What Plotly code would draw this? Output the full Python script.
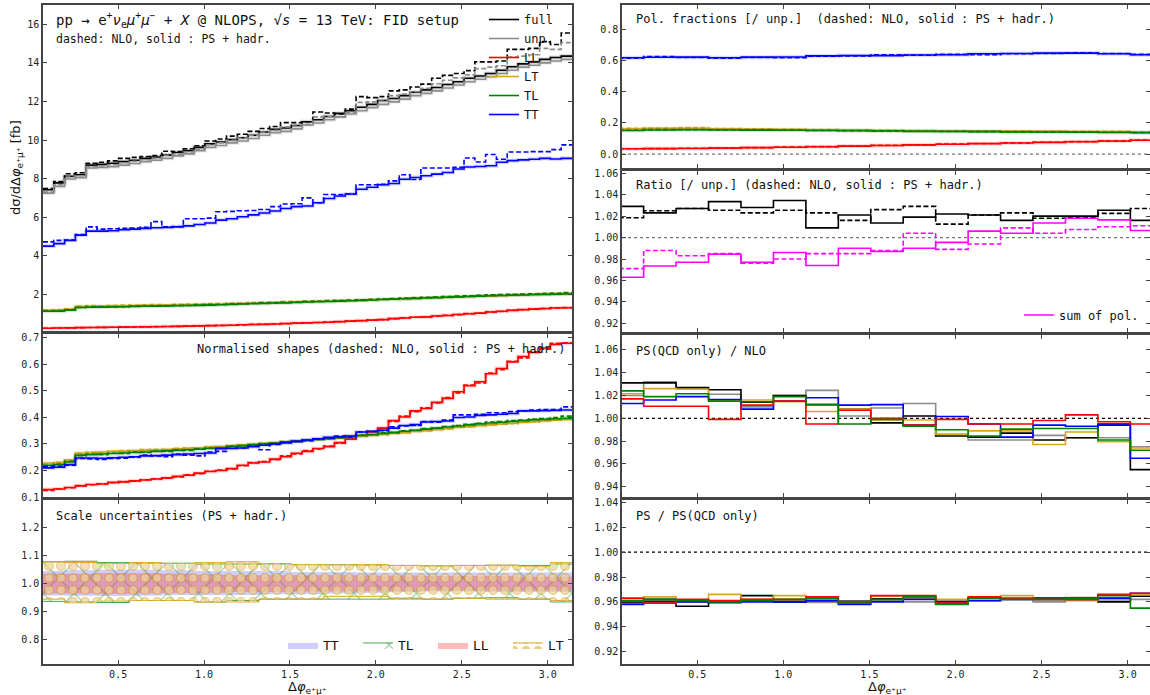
import numpy as np
import plotly.graph_objects as go

PI = np.pi

# ---------------- data : fine bins (pi/50 wide, first visible bin starts at pi/50) -------------
full_ps = [7.42, 7.78, 8.12, 8.20, 8.70, 8.74, 8.80, 8.88, 8.95, 9.05,
           9.12, 9.22, 9.35, 9.45, 9.62, 9.80, 9.90, 10.02, 10.12, 10.25,
           10.42, 10.55, 10.62, 10.75, 10.95, 11.05, 11.22, 11.38, 11.52, 11.70,
           11.85, 12.05, 12.15, 12.30, 12.48, 12.60, 12.72, 12.88, 13.02, 13.20,
           13.32, 13.45, 13.62, 13.80, 13.95, 14.05, 14.18, 14.28, 14.35]
full_nlo = [7.48, 7.85, 8.25, 8.30, 8.80, 8.85, 8.92, 9.05, 9.10, 9.15,
            9.20, 9.42, 9.40, 9.55, 9.70, 9.95, 10.05, 10.20, 10.30, 10.45,
            10.60, 10.70, 10.90, 10.90, 10.95, 11.45, 11.40, 11.35, 11.60,
            12.25, 12.20, 12.25, 12.55, 12.60, 12.75, 12.90, 13.20, 13.35, 13.45, 13.60,
            14.05, 14.05, 14.10, 14.70, 14.70, 14.75, 15.10, 14.95, 15.55]
unp_ps = [7.25, 7.60, 7.98, 8.05, 8.55, 8.58, 8.62, 8.70, 8.78, 8.88,
          8.95, 9.05, 9.18, 9.28, 9.45, 9.62, 9.72, 9.85, 9.95, 10.08,
          10.25, 10.38, 10.45, 10.58, 10.78, 10.88, 11.05, 11.20, 11.35, 11.52,
          11.68, 11.85, 11.98, 12.12, 12.30, 12.42, 12.55, 12.70, 12.85, 13.02,
          13.15, 13.28, 13.45, 13.62, 13.78, 13.88, 14.00, 14.10, 14.18]
unp_nlo = [7.30, 7.68, 8.08, 8.15, 8.62, 8.66, 8.72, 8.82, 8.90, 8.98,
           9.05, 9.20, 9.25, 9.38, 9.52, 9.75, 9.85, 9.98, 10.10, 10.25,
           10.42, 10.50, 10.68, 10.72, 10.80, 11.20, 11.22, 11.20, 11.42, 11.95,
           11.98, 12.02, 12.30, 12.38, 12.50, 12.68, 12.92, 13.10, 13.22, 13.38,
           13.70, 13.78, 13.85, 14.30, 14.35, 14.42, 14.75, 14.70, 15.05]
TT_ps = [4.50, 4.63, 4.80, 5.07, 5.28, 5.28, 5.30, 5.35, 5.38, 5.42,
         5.45, 5.47, 5.50, 5.55, 5.62, 5.70, 5.85, 5.92, 6.02, 6.12,
         6.22, 6.32, 6.45, 6.55, 6.58, 6.75, 6.97, 7.10, 7.20, 7.45,
         7.55, 7.68, 7.75, 7.97, 8.06, 8.15, 8.23, 8.32, 8.50, 8.60,
         8.63, 8.67, 8.85, 8.93, 8.97, 9.00, 9.05, 9.02, 9.05]
TT_nlo = [4.72, 4.80, 4.82, 5.10, 5.50, 5.38, 5.40, 5.42, 5.44, 5.48,
          5.77, 5.50, 5.52, 5.92, 5.92, 5.95, 6.28, 6.30, 6.33, 6.35,
          6.40, 6.55, 6.68, 6.70, 7.00, 6.75, 7.18, 7.18, 7.20, 7.68,
          7.68, 7.70, 7.88, 8.20, 7.95, 8.55, 8.55, 8.55, 8.58, 9.07,
          8.86, 9.25, 9.00, 9.38, 9.38, 9.40, 9.40, 9.50, 9.75]
LL_ps = [0.245, 0.252, 0.262, 0.274, 0.284, 0.288, 0.298, 0.303, 0.310, 0.316,
         0.324, 0.332, 0.342, 0.351, 0.366, 0.377, 0.386, 0.398, 0.422, 0.438,
         0.446, 0.466, 0.484, 0.508, 0.522, 0.543, 0.557, 0.585, 0.610, 0.637,
         0.662, 0.690, 0.744, 0.771, 0.815, 0.832, 0.876, 0.905, 0.953, 0.997,
         1.026, 1.083, 1.121, 1.169, 1.207, 1.236, 1.269, 1.296, 1.303]
LL_nlo = [0.242, 0.254, 0.260, 0.276, 0.282, 0.290, 0.296, 0.305, 0.308, 0.318,
          0.326, 0.330, 0.340, 0.355, 0.362, 0.380, 0.390, 0.396, 0.420, 0.443,
          0.450, 0.463, 0.490, 0.504, 0.528, 0.540, 0.562, 0.582, 0.615, 0.634,
          0.669, 0.688, 0.740, 0.778, 0.811, 0.840, 0.874, 0.912, 0.948, 1.003,
          1.018, 1.090, 1.113, 1.175, 1.200, 1.245, 1.262, 1.306, 1.310]
TL_ps = [1.12, 1.13, 1.18, 1.32, 1.33, 1.34, 1.35, 1.36, 1.37, 1.38,
         1.39, 1.40, 1.41, 1.42, 1.43, 1.44, 1.46, 1.48, 1.50, 1.51,
         1.53, 1.55, 1.56, 1.58, 1.60, 1.62, 1.63, 1.65, 1.67, 1.69,
         1.71, 1.73, 1.75, 1.77, 1.79, 1.81, 1.83, 1.85, 1.87, 1.89,
         1.91, 1.93, 1.94, 1.96, 1.97, 1.99, 2.00, 2.01, 2.02]
TL_nlo = [1.13, 1.15, 1.20, 1.32, 1.35, 1.34, 1.36, 1.36, 1.39, 1.38,
          1.40, 1.40, 1.43, 1.42, 1.45, 1.47, 1.47, 1.50, 1.51, 1.54,
          1.56, 1.56, 1.59, 1.60, 1.63, 1.64, 1.65, 1.68, 1.69, 1.72,
          1.73, 1.76, 1.77, 1.81, 1.82, 1.85, 1.86, 1.89, 1.91, 1.93,
          1.95, 1.98, 1.99, 2.00, 2.01, 2.03, 2.04, 2.06, 2.09]
LT_ps = [1.17, 1.18, 1.23, 1.37, 1.38, 1.39, 1.40, 1.41, 1.42, 1.43,
         1.43, 1.44, 1.45, 1.46, 1.47, 1.48, 1.49, 1.51, 1.52, 1.54,
         1.55, 1.57, 1.58, 1.60, 1.61, 1.63, 1.64, 1.66, 1.68, 1.69,
         1.71, 1.73, 1.75, 1.76, 1.78, 1.80, 1.82, 1.84, 1.86, 1.88,
         1.90, 1.91, 1.93, 1.94, 1.96, 1.97, 1.99, 2.00, 2.01]
LT_nlo = [1.18, 1.21, 1.25, 1.39, 1.42, 1.41, 1.43, 1.44, 1.43, 1.46,
          1.47, 1.46, 1.49, 1.50, 1.50, 1.52, 1.52, 1.55, 1.55, 1.58,
          1.59, 1.60, 1.63, 1.63, 1.66, 1.66, 1.69, 1.69, 1.72, 1.72,
          1.75, 1.76, 1.80, 1.80, 1.83, 1.84, 1.87, 1.88, 1.91, 1.91,
          1.94, 1.95, 1.97, 1.98, 2.01, 2.01, 2.04, 2.05, 2.08]

# normalised shapes
LL_shape_ps = [0.128, 0.130, 0.136, 0.142, 0.147, 0.149, 0.155, 0.157, 0.161, 0.164,
               0.168, 0.172, 0.178, 0.182, 0.190, 0.196, 0.200, 0.207, 0.220, 0.228,
               0.232, 0.243, 0.252, 0.265, 0.272, 0.283, 0.290, 0.305, 0.318, 0.332,
               0.345, 0.360, 0.388, 0.402, 0.425, 0.434, 0.457, 0.472, 0.497, 0.520,
               0.535, 0.565, 0.585, 0.610, 0.630, 0.645, 0.662, 0.676, 0.680]
LL_shape_nlo = [0.125, 0.131, 0.135, 0.143, 0.146, 0.150, 0.154, 0.158, 0.160, 0.165,
                0.169, 0.171, 0.176, 0.184, 0.188, 0.197, 0.202, 0.206, 0.218, 0.230,
                0.234, 0.241, 0.255, 0.262, 0.275, 0.281, 0.292, 0.303, 0.320, 0.330,
                0.348, 0.358, 0.385, 0.405, 0.422, 0.437, 0.455, 0.475, 0.493, 0.522,
                0.530, 0.568, 0.580, 0.612, 0.625, 0.648, 0.658, 0.680, 0.682]
TT_shape_ps = [0.210, 0.212, 0.222, 0.247, 0.247, 0.246, 0.248, 0.250, 0.252, 0.255,
               0.256, 0.258, 0.260, 0.262, 0.264, 0.266, 0.282, 0.283, 0.285, 0.290,
               0.295, 0.300, 0.305, 0.310, 0.315, 0.320, 0.325, 0.327, 0.330, 0.345,
               0.347, 0.352, 0.360, 0.370, 0.373, 0.383, 0.385, 0.387, 0.400, 0.402,
               0.408, 0.410, 0.412, 0.415, 0.425, 0.425, 0.426, 0.427, 0.428]
TT_shape_nlo = [0.215, 0.216, 0.220, 0.245, 0.244, 0.242, 0.245, 0.246, 0.250, 0.258,
                0.255, 0.252, 0.262, 0.258, 0.255, 0.270, 0.272, 0.284, 0.285, 0.292,
                0.278, 0.298, 0.305, 0.310, 0.312, 0.318, 0.322, 0.330, 0.325, 0.345,
                0.348, 0.350, 0.365, 0.368, 0.370, 0.385, 0.382, 0.390, 0.410, 0.410,
                0.412, 0.418, 0.418, 0.422, 0.425, 0.428, 0.430, 0.430, 0.440]
TL_shape_ps = [0.220, 0.222, 0.232, 0.258, 0.260, 0.262, 0.264, 0.266, 0.268, 0.270,
               0.272, 0.274, 0.276, 0.278, 0.280, 0.283, 0.286, 0.290, 0.294, 0.297,
               0.300, 0.303, 0.306, 0.310, 0.313, 0.317, 0.320, 0.324, 0.328, 0.332,
               0.336, 0.340, 0.344, 0.348, 0.352, 0.356, 0.360, 0.364, 0.368, 0.372,
               0.376, 0.379, 0.382, 0.385, 0.388, 0.391, 0.393, 0.395, 0.397]
TL_shape_nlo = [0.218, 0.224, 0.235, 0.256, 0.262, 0.260, 0.265, 0.264, 0.270, 0.268,
                0.273, 0.272, 0.278, 0.276, 0.282, 0.285, 0.285, 0.292, 0.293, 0.298,
                0.302, 0.302, 0.308, 0.310, 0.315, 0.318, 0.320, 0.326, 0.327, 0.334,
                0.335, 0.342, 0.343, 0.350, 0.352, 0.358, 0.360, 0.366, 0.370, 0.374,
                0.378, 0.383, 0.385, 0.388, 0.390, 0.394, 0.396, 0.400, 0.405]
LT_shape_ps = [0.228, 0.230, 0.240, 0.266, 0.268, 0.270, 0.272, 0.273, 0.275, 0.277,
               0.278, 0.280, 0.282, 0.284, 0.286, 0.288, 0.290, 0.293, 0.296, 0.299,
               0.302, 0.305, 0.308, 0.311, 0.314, 0.317, 0.320, 0.323, 0.326, 0.329,
               0.332, 0.336, 0.340, 0.343, 0.347, 0.350, 0.354, 0.358, 0.362, 0.365,
               0.369, 0.372, 0.375, 0.378, 0.381, 0.384, 0.387, 0.390, 0.392]
LT_shape_nlo = [0.225, 0.232, 0.238, 0.265, 0.270, 0.268, 0.273, 0.275, 0.273, 0.279,
                0.280, 0.278, 0.284, 0.285, 0.285, 0.290, 0.290, 0.295, 0.295, 0.300,
                0.303, 0.304, 0.310, 0.310, 0.315, 0.316, 0.322, 0.322, 0.328, 0.328,
                0.334, 0.335, 0.342, 0.342, 0.348, 0.350, 0.355, 0.357, 0.364, 0.364,
                0.370, 0.372, 0.376, 0.377, 0.383, 0.383, 0.388, 0.390, 0.395]

# ---------------- data : coarse bins (3*pi/50 wide) -------------
# scale-uncertainty bands (relative)
TT_band_up = [1.045, 1.048, 1.050, 1.050, 1.048, 1.045, 1.045, 1.045, 1.042, 1.042, 1.040, 1.040, 1.040, 1.040, 1.040, 1.040, 1.040]
TT_band_lo = [0.958, 0.957, 0.956, 0.957, 0.960, 0.960, 0.960, 0.962, 0.962, 0.965, 0.968, 0.970, 0.972, 0.972, 0.970, 0.970, 0.970]
TL_band_up = [1.078, 1.080, 1.075, 1.073, 1.073, 1.070, 1.070, 1.070, 1.068, 1.067, 1.066, 1.065, 1.063, 1.065, 1.066, 1.065, 1.070]
TL_band_lo = [0.937, 0.935, 0.933, 0.940, 0.940, 0.935, 0.940, 0.945, 0.945, 0.945, 0.945, 0.948, 0.945, 0.948, 0.950, 0.945, 0.935]
LL_band_up = [1.035, 1.035, 1.037, 1.037, 1.035, 1.033, 1.030, 1.030, 1.030, 1.030, 1.028, 1.028, 1.027, 1.027, 1.027, 1.025, 1.025]
LL_band_lo = [0.965, 0.965, 0.963, 0.965, 0.967, 0.968, 0.970, 0.970, 0.972, 0.972, 0.973, 0.973, 0.975, 0.975, 0.975, 0.975, 0.975]
LT_band_up = [1.078, 1.075, 1.072, 1.075, 1.072, 1.075, 1.078, 1.072, 1.068, 1.067, 1.068, 1.065, 1.063, 1.065, 1.065, 1.062, 1.075]
LT_band_lo = [0.945, 0.932, 0.938, 0.940, 0.940, 0.935, 0.935, 0.945, 0.945, 0.955, 0.955, 0.945, 0.945, 0.948, 0.945, 0.945, 0.940]

# polarisation fractions
TT_frac_ps = [0.620, 0.623, 0.624, 0.620, 0.624, 0.625, 0.632, 0.634, 0.634, 0.638, 0.640, 0.646, 0.648, 0.650, 0.650, 0.646, 0.640]
TT_frac_nlo = [0.618, 0.628, 0.622, 0.618, 0.622, 0.620, 0.630, 0.632, 0.640, 0.636, 0.642, 0.640, 0.646, 0.648, 0.652, 0.648, 0.642]
LT_frac_ps = [0.163, 0.166, 0.165, 0.162, 0.160, 0.158, 0.156, 0.154, 0.152, 0.150, 0.149, 0.148, 0.147, 0.146, 0.145, 0.144, 0.142]
LT_frac_nlo = [0.165, 0.168, 0.170, 0.164, 0.162, 0.160, 0.157, 0.156, 0.153, 0.151, 0.150, 0.148, 0.148, 0.146, 0.145, 0.145, 0.143]
TL_frac_ps = [0.152, 0.155, 0.156, 0.155, 0.154, 0.153, 0.152, 0.150, 0.148, 0.146, 0.145, 0.144, 0.143, 0.142, 0.140, 0.139, 0.137]
TL_frac_nlo = [0.153, 0.157, 0.157, 0.156, 0.155, 0.153, 0.152, 0.151, 0.149, 0.147, 0.146, 0.144, 0.143, 0.142, 0.141, 0.140, 0.138]
LL_frac_ps = [0.034, 0.035, 0.036, 0.038, 0.041, 0.044, 0.047, 0.051, 0.055, 0.059, 0.063, 0.067, 0.071, 0.075, 0.079, 0.084, 0.089]
LL_frac_nlo = [0.034, 0.035, 0.037, 0.038, 0.041, 0.045, 0.048, 0.051, 0.056, 0.059, 0.064, 0.068, 0.072, 0.076, 0.080, 0.085, 0.090]

# ratios to unpolarised
full_ratio_ps = [1.029, 1.023, 1.027, 1.0335, 1.028, 1.0345, 1.009, 1.021, 1.0135, 1.019, 1.022, 1.021, 1.016, 1.020, 1.020, 1.0255, 1.016]
full_ratio_nlo = [1.0185, 1.025, 1.027, 1.0255, 1.023, 1.0255, 1.023, 1.016, 1.026, 1.029, 1.0125, 1.021, 1.023, 1.018, 1.019, 1.0225, 1.027]
sum_ratio_ps = [0.963, 0.9735, 0.977, 0.9845, 0.977, 0.986, 0.974, 0.990, 0.987, 0.990, 0.9955, 1.006, 1.004, 1.0135, 1.018, 1.0165, 1.0065]
sum_ratio_nlo = [0.971, 0.988, 0.983, 0.985, 0.976, 0.980, 0.985, 0.985, 0.988, 1.004, 0.989, 0.994, 1.009, 1.004, 1.0075, 1.010, 1.011]

# PS(QCD only) / NLO
full_qcd = [1.031, 1.031, 1.027, 1.025, 1.014, 1.020, 1.012, 1.008, 0.996, 1.002, 0.9845, 0.9835, 0.987, 0.981, 0.983, 0.995, 0.955]
unp_qcd = [1.020, 1.032, 1.026, 1.021, 1.010, 1.020, 1.0245, 1.002, 1.009, 1.013, 0.986, 0.981, 0.981, 0.985, 0.983, 0.983, 0.975]
LL_qcd = [1.017, 1.0105, 1.0105, 0.999, 1.0115, 1.015, 0.995, 1.007, 1.000, 0.994, 0.999, 0.995, 0.995, 0.998, 1.003, 0.997, 0.995]
LT_qcd = [1.0215, 1.026, 1.0255, 1.016, 1.016, 1.0145, 1.006, 1.008, 0.9985, 0.9985, 0.986, 0.989, 0.989, 0.977, 0.988, 0.9795, 0.974]
TL_qcd = [1.024, 1.019, 1.0215, 1.015, 1.0145, 1.019, 1.012, 0.995, 0.999, 0.993, 0.990, 0.9845, 0.9905, 0.991, 0.991, 0.981, 0.972]
TT_qcd = [1.013, 1.016, 1.019, 1.0165, 1.008, 1.015, 1.018, 1.0115, 1.012, 0.994, 1.0015, 0.995, 0.9835, 0.994, 0.993, 0.994, 0.965]

# PS / PS(QCD only)
full_hadr = [0.960, 0.962, 0.9565, 0.960, 0.965, 0.960, 0.961, 0.9605, 0.9625, 0.9645, 0.9585, 0.963, 0.9625, 0.963, 0.963, 0.960, 0.9645]
unp_hadr = [0.959, 0.961, 0.961, 0.959, 0.961, 0.961, 0.9595, 0.9605, 0.961, 0.960, 0.961, 0.961, 0.962, 0.960, 0.9635, 0.9615, 0.962]
LL_hadr = [0.963, 0.959, 0.962, 0.961, 0.962, 0.962, 0.964, 0.959, 0.965, 0.965, 0.959, 0.964, 0.963, 0.962, 0.962, 0.966, 0.967]
LT_hadr = [0.961, 0.964, 0.960, 0.966, 0.962, 0.965, 0.962, 0.959, 0.9645, 0.963, 0.962, 0.963, 0.965, 0.962, 0.961, 0.963, 0.966]
TL_hadr = [0.961, 0.962, 0.961, 0.960, 0.961, 0.962, 0.963, 0.960, 0.962, 0.964, 0.958, 0.963, 0.962, 0.962, 0.963, 0.965, 0.955]
TT_hadr = [0.958, 0.960, 0.960, 0.960, 0.960, 0.960, 0.961, 0.958, 0.960, 0.962, 0.960, 0.961, 0.962, 0.962, 0.962, 0.963, 0.967]

x_ticks = [0.5, 1.0, 1.5, 2.0, 2.5, 3.0]

# ---------------- binning -------------
fine_edges = PI / 50 * np.arange(1, 51)                       # 49 bins
coarse_edges = np.append(3 * PI / 50 * np.arange(0, 17), PI)  # 17 bins

MONO = "DejaVu Sans Mono"
SANS = "DejaVu Sans"
COL = dict(full="#000000", unp="#8c8c8c", LL="#ff0000", LT="#daa520",
           TL="#008000", TT="#0000ff", sum="#ff00ff")
DASH = "5px,2.5px"
LW = 1.6

W, H = 1150, 695
ML, MR, MT, MB = 43, 0, 5, 31
PW, PH = W - ML - MR, H - MT - MB
BOT = H - MB


def xdom(a, b):
    return [(a - ML) / PW, (b - ML) / PW]


def ydom(top, bot):
    return [(BOT - bot) / PH, (BOT - top) / PH]


def px(xp):
    return (xp - ML) / PW


def py(yp):
    return (BOT - yp) / PH


fig = go.Figure()


def stepxy(edges, vals):
    return np.asarray(edges), np.append(np.asarray(vals, dtype=float), vals[-1])


def add_step(ax, edges, vals, color, dash="solid", name=None, legend="legend",
             under=False, width=LW):
    x, y = stepxy(edges, vals)
    xa, ya = ax
    if under:
        fig.add_trace(go.Scatter(x=x, y=y, mode="lines", xaxis=xa, yaxis=ya,
                                 line=dict(color=color, width=4, shape="hv"),
                                 opacity=0.14, showlegend=False, hoverinfo="skip"))
    fig.add_trace(go.Scatter(x=x, y=y, mode="lines", xaxis=xa, yaxis=ya,
                             line=dict(color=color, width=width, dash=dash, shape="hv"),
                             name=name, showlegend=name is not None, legend=legend))


P1 = ("x", "y")
P2 = ("x2", "y2")
P3 = ("x3", "y3")
R1 = ("x4", "y4")
R2 = ("x5", "y5")
R3 = ("x6", "y6")
R4 = ("x7", "y7")

# ---- P1 : cross sections ----
series_p1 = [("full", full_nlo, full_ps, "full"), ("unp", unp_nlo, unp_ps, "unp."),
             ("LL", LL_nlo, LL_ps, "LL"), ("LT", LT_nlo, LT_ps, "LT"),
             ("TL", TL_nlo, TL_ps, "TL"), ("TT", TT_nlo, TT_ps, "TT")]
for key, nlo, ps, lab in series_p1:
    add_step(P1, fine_edges, nlo, COL[key], dash=DASH)
    add_step(P1, fine_edges, ps, COL[key], name=lab, legend="legend", under=True)

# ---- P2 : normalised shapes ----
for key, nlo, ps in [("LL", LL_shape_nlo, LL_shape_ps), ("LT", LT_shape_nlo, LT_shape_ps),
                     ("TL", TL_shape_nlo, TL_shape_ps), ("TT", TT_shape_nlo, TT_shape_ps)]:
    add_step(P2, fine_edges, ps, COL[key], under=True)
    add_step(P2, fine_edges, nlo, COL[key], dash=DASH)

# ---- P3 : scale uncertainties ----
def add_band(ax, lo, up, name, fillcolor=None, line=None, pattern=None, showlegend=True, rank=1):
    xa, ya = ax
    x, ylo = stepxy(coarse_edges, lo)
    _, yup = stepxy(coarse_edges, up)
    lw = 1.0 if line else 0
    lc = line if line else "rgba(0,0,0,0)"
    fig.add_trace(go.Scatter(x=x, y=ylo, mode="lines", xaxis=xa, yaxis=ya,
                             line=dict(color=lc, width=lw, shape="hv"),
                             showlegend=False, hoverinfo="skip"))
    kw = dict(x=x, y=yup, mode="lines", xaxis=xa, yaxis=ya, fill="tonexty",
              line=dict(color=lc, width=lw, shape="hv"), name=name,
              showlegend=showlegend, legend="legend3", hoverinfo="skip", legendrank=rank)
    if pattern is not None:
        kw["fillcolor"] = "rgba(0,0,0,0)"
        kw["fillpattern"] = pattern
    else:
        kw["fillcolor"] = fillcolor
    fig.add_trace(go.Scatter(**kw))


add_band(P3, TT_band_lo, TT_band_up, "TT", fillcolor="rgba(80,80,255,0.28)", rank=1)
add_band(P3, TL_band_lo, TL_band_up, "TL", line="rgba(0,128,0,0.7)",
         pattern=dict(shape="x", fgcolor="rgba(0,128,0,0.85)", bgcolor="rgba(0,0,0,0)",
                      size=22, solidity=0.1), rank=2)
add_band(P3, LL_band_lo, LL_band_up, "LL", fillcolor="rgba(255,60,60,0.35)", rank=3)
add_band(P3, LT_band_lo, LT_band_up, "LT", line="#daa520",
         pattern=dict(shape=".", fgcolor="#d4980c", bgcolor="rgba(0,0,0,0)",
                      size=12, solidity=0.55), rank=4)
add_band(P3, LT_band_lo, LT_band_up, None, showlegend=False,
         pattern=dict(shape=".", fgcolor="rgba(255,255,255,0.8)", bgcolor="rgba(0,0,0,0)",
                      size=12, solidity=0.32), rank=5)

# ---- R1 : polarisation fractions ----
for key, nlo, ps in [("TT", TT_frac_nlo, TT_frac_ps), ("LT", LT_frac_nlo, LT_frac_ps),
                     ("TL", TL_frac_nlo, TL_frac_ps), ("LL", LL_frac_nlo, LL_frac_ps)]:
    add_step(R1, coarse_edges, ps, COL[key], under=True)
    add_step(R1, coarse_edges, nlo, COL[key], dash=DASH)

# ---- R2 : ratio to unpolarised ----
add_step(R2, coarse_edges, full_ratio_nlo, COL["full"], dash=DASH)
add_step(R2, coarse_edges, full_ratio_ps, COL["full"])
add_step(R2, coarse_edges, sum_ratio_nlo, COL["sum"], dash=DASH)
add_step(R2, coarse_edges, sum_ratio_ps, COL["sum"], name="sum of pol.", legend="legend2")

# ---- R3 / R4 ----
for key, qcd, hadr in [("unp", unp_qcd, unp_hadr), ("full", full_qcd, full_hadr),
                       ("LT", LT_qcd, LT_hadr), ("TT", TT_qcd, TT_hadr),
                       ("LL", LL_qcd, LL_hadr), ("TL", TL_qcd, TL_hadr)]:
    add_step(R3, coarse_edges, qcd, COL[key])
    add_step(R4, coarse_edges, hadr, COL[key])

# ---------------- axes -------------
LINEC = "#444444"
tickfont = dict(family=MONO, size=10, color="#222222")


def xaxis(dom, anchor, labels, right=False):
    return dict(domain=dom, anchor=anchor, range=[PI / 50, 3.13 if right else PI],
                tickvals=x_ticks, tickformat=".1f", ticks="inside", ticklen=4,
                tickcolor=LINEC, showline=True, linecolor=LINEC, linewidth=1.5,
                mirror="allticks", showgrid=False, zeroline=False, automargin=False,
                showticklabels=labels, tickfont=tickfont)


def yaxis(dom, anchor, rng, dtick, fmt, tick0=None):
    d = dict(domain=dom, anchor=anchor, range=rng, dtick=dtick, tickformat=fmt,
             ticks="inside", ticklen=4, tickcolor=LINEC, showline=True,
             linecolor=LINEC, linewidth=1.5, mirror="allticks", showgrid=False,
             zeroline=False, tickfont=tickfont, automargin=False)
    if tick0 is not None:
        d["tick0"] = tick0
    return d


LX = xdom(43, 572)
RX = xdom(622, 1150)

layout = dict(
    xaxis=xaxis(LX, "y", False),
    yaxis=yaxis(ydom(5, 331), "x", [0.1, 17.0], 2, "d", tick0=0),
    xaxis2=xaxis(LX, "y2", False),
    yaxis2=yaxis(ydom(334, 497), "x2", [0.1, 0.715], 0.1, ".1f", tick0=0),
    xaxis3=xaxis(LX, "y3", True),
    yaxis3=yaxis(ydom(500, 664), "x3", [0.714, 1.298], 0.1, ".1f", tick0=0),
    xaxis4=xaxis(RX, "y4", False, right=True),
    yaxis4=yaxis(ydom(5, 168), "x4", [-0.09, 0.96], 0.2, ".1f", tick0=0),
    xaxis5=xaxis(RX, "y5", False, right=True),
    yaxis5=yaxis(ydom(171, 332), "x5", [0.912, 1.062], 0.02, ".2f", tick0=0),
    xaxis6=xaxis(RX, "y6", False, right=True),
    yaxis6=yaxis(ydom(335, 497), "x6", [0.931, 1.073], 0.02, ".2f", tick0=0),
    xaxis7=xaxis(RX, "y7", True, right=True),
    yaxis7=yaxis(ydom(500, 664), "x7", [0.91, 1.042], 0.02, ".2f", tick0=0),
)
fig.update_layout(**layout)

# reference lines
for xa, ya, yv, c in [("x4", "y4", 0.0, "#777777"), ("x5", "y5", 1.0, "#777777"),
                      ("x6", "y6", 1.0, "#000000"), ("x7", "y7", 1.0, "#000000")]:
    fig.add_shape(type="line", xref=xa + " domain", yref=ya, x0=0, x1=1, y0=yv, y1=yv,
                  line=dict(color=c, width=1.2, dash="dot"), layer="below")

ann = []


def text(x, y, s, size=12, xanchor="left", family=MONO, **kw):
    ann.append(dict(x=px(x), y=py(y), xref="paper", yref="paper", text=s, showarrow=False,
                    xanchor=xanchor, yanchor="middle", font=dict(family=family, size=size,
                                                                 color="#111111"), **kw))


text(54, 20, "pp → e<sup>+</sup><i>ν</i><sub>e</sub><i>μ</i><sup>+</sup><i>μ</i><sup>−</sup> + <i>X</i> @ NLOPS, √<i>s</i> = 13 TeV: FID setup", size=14)
text(54, 39, "dashed: NLO, solid : PS + hadr.", size=11.5)
text(567, 349, "Normalised shapes (dashed: NLO, solid : PS + hadr.)", size=12, xanchor="right")
text(54, 516, "Scale uncertainties (PS + hadr.)", size=12)
text(634, 19, "Pol. fractions [/ unp.]  (dashed: NLO, solid : PS + hadr.)", size=12)
text(634, 185, "Ratio [/ unp.] (dashed: NLO, solid : PS + hadr.)", size=12)
text(634, 351, "PS(QCD only) / NLO", size=12)
text(634, 516, "PS / PS(QCD only)", size=12)
text(17, 168, "dσ/dΔ<i>φ</i><sub>e⁺μ⁺</sub> [fb]", size=13, xanchor="center", family=SANS,
     textangle=-90)
text(307, 687, "Δ<i>φ</i><sub>e⁺μ⁺</sub>", size=13, xanchor="center", family=SANS)
text(887, 687, "Δ<i>φ</i><sub>e⁺μ⁺</sub>", size=13, xanchor="center", family=SANS)

fig.update_layout(
    annotations=ann,
    width=W, height=H, margin=dict(l=ML, r=MR, t=MT, b=MB, autoexpand=False),
    paper_bgcolor="white", plot_bgcolor="white",
    font=dict(family=MONO, size=12, color="#111111"),
    legend=dict(x=px(484), y=py(5), xanchor="left", yanchor="top",
                bgcolor="rgba(0,0,0,0)", font=dict(family=MONO, size=12),
                itemwidth=30, tracegroupgap=0, traceorder="normal"),
    legend2=dict(x=px(1019), y=py(315), xanchor="left", yanchor="middle",
                 bgcolor="rgba(0,0,0,0)", font=dict(family=MONO, size=12), itemwidth=30),
    legend3=dict(x=px(283), y=py(645), xanchor="left", yanchor="middle", orientation="h",
                 bgcolor="rgba(0,0,0,0)", font=dict(family=MONO, size=13), itemwidth=30,
                 entrywidth=30, entrywidthmode="pixels", traceorder="normal"),
    hovermode=False,
)

fig.write_html("out.html", config={"displayModeBar": False},
               post_script="document.body.style.margin='0';document.body.style.overflow='hidden';")
